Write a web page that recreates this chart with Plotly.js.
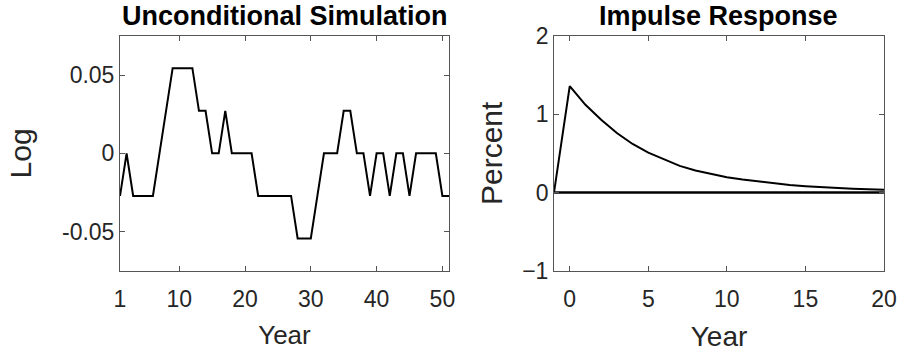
<!DOCTYPE html>
<html>
<head>
<meta charset="utf-8">
<script src="https://cdn.plot.ly/plotly-3.0.1.min.js"></script>
<style>html,body{margin:0;padding:0;background:#fff;}#chart{width:901px;height:356px;}</style>
</head>
<body>
<div id="chart"></div>
<script>
// Unconditional simulation (left)
const simYears = [1,2,3,4,5,6,7,8,9,10,11,12,13,14,15,16,17,18,19,20,21,22,23,24,25,26,27,28,29,30,31,32,33,34,35,36,37,38,39,40,41,42,43,44,45,46,47,48,49,50,51];
const simLog = [-0.0272,0,-0.0272,-0.0272,-0.0272,-0.0272,0,0.0272,0.0544,0.0544,0.0544,0.0544,0.0272,0.0272,0,0,0.0272,0,0,0,0,-0.0272,-0.0272,-0.0272,-0.0272,-0.0272,-0.0272,-0.0544,-0.0544,-0.0544,-0.0272,0,0,0,0.0272,0.0272,0,0,-0.0272,0,0,-0.0272,0,0,-0.0272,0,0,0,0,-0.0272,-0.0272];
const simXTicks = [1,10,20,30,40,50];
const simYTicks = [-0.05,0,0.05];
const simYTickText = ['-0.05','0','0.05'];

// Impulse response (right)
const irfYears = [-1,0,1,2,3,4,5,6,7,8,9,10,11,12,13,14,15,16,17,18,19,20];
const irfPercent = [0,1.36,1.12,0.93,0.76,0.62,0.51,0.42,0.34,0.28,0.235,0.195,0.165,0.14,0.115,0.095,0.08,0.067,0.056,0.047,0.04,0.035];
const zeroYears = [-1,20];
const zeroLine = [0,0];
const irfXTicks = [0,5,10,15,20];
const irfYTicks = [-1,0,1,2];

const FONT = 'Liberation Sans, Arial, Helvetica, sans-serif';
const AX = '#262626';

function axisBase(extra){
  return Object.assign({
    showgrid:false, zeroline:false, showline:true, mirror:'ticks',
    linecolor:'#555', linewidth:1, ticks:'inside', ticklen:5, tickcolor:'#555',
    tickfont:{family:FONT,size:23,color:AX}, fixedrange:true
  }, extra);
}

const traces = [
  {x:simYears, y:simLog, type:'scatter', mode:'lines', line:{color:'#000',width:2}, xaxis:'x', yaxis:'y', hoverinfo:'skip'},
  {x:zeroYears, y:zeroLine, type:'scatter', mode:'lines', line:{color:'#000',width:2.4}, xaxis:'x2', yaxis:'y2', hoverinfo:'skip'},
  {x:irfYears, y:irfPercent, type:'scatter', mode:'lines', line:{color:'#000',width:2}, xaxis:'x2', yaxis:'y2', hoverinfo:'skip'}
];

const layout = {
  width:901, height:356, margin:{l:0,r:0,t:0,b:0},
  paper_bgcolor:'#fff', plot_bgcolor:'#fff', showlegend:false,
  font:{family:FONT,color:AX},
  xaxis: axisBase({domain:[0.1332,0.4983], anchor:'y', range:[1,51], tickvals:simXTicks, ticklabelstandoff:8,
    title:{text:'Year', font:{family:FONT,size:26,color:AX}, standoff:14}}),
  yaxis: axisBase({domain:[0.2396,0.8989], anchor:'x', range:[-0.075,0.075], tickvals:simYTicks, ticktext:simYTickText,
    title:{text:'Log', font:{family:FONT,size:30,color:AX}, standoff:21}}),
  xaxis2: axisBase({domain:[0.6149,0.9811], anchor:'y2', range:[-1,20], tickvals:irfXTicks, ticklabelstandoff:8,
    title:{text:'Year', font:{family:FONT,size:28,color:AX}, standoff:15}}),
  yaxis2: axisBase({domain:[0.2396,0.8989], anchor:'x2', range:[-1,2], tickvals:irfYTicks,
    title:{text:'Percent', font:{family:FONT,size:30,color:AX}, standoff:10}}),
  annotations:[
    {text:'<b>Unconditional Simulation</b>', xref:'paper', yref:'paper', x:0.3158, y:0.955, xanchor:'center', yanchor:'middle', showarrow:false, font:{family:FONT,size:27,color:'#000'}},
    {text:'<b>Impulse Response</b>', xref:'paper', yref:'paper', x:0.798, y:0.955, xanchor:'center', yanchor:'middle', showarrow:false, font:{family:FONT,size:27,color:'#000'}}
  ]
};

Plotly.newPlot('chart', traces, layout, {displayModeBar:false, staticPlot:true});
</script>
</body>
</html>
